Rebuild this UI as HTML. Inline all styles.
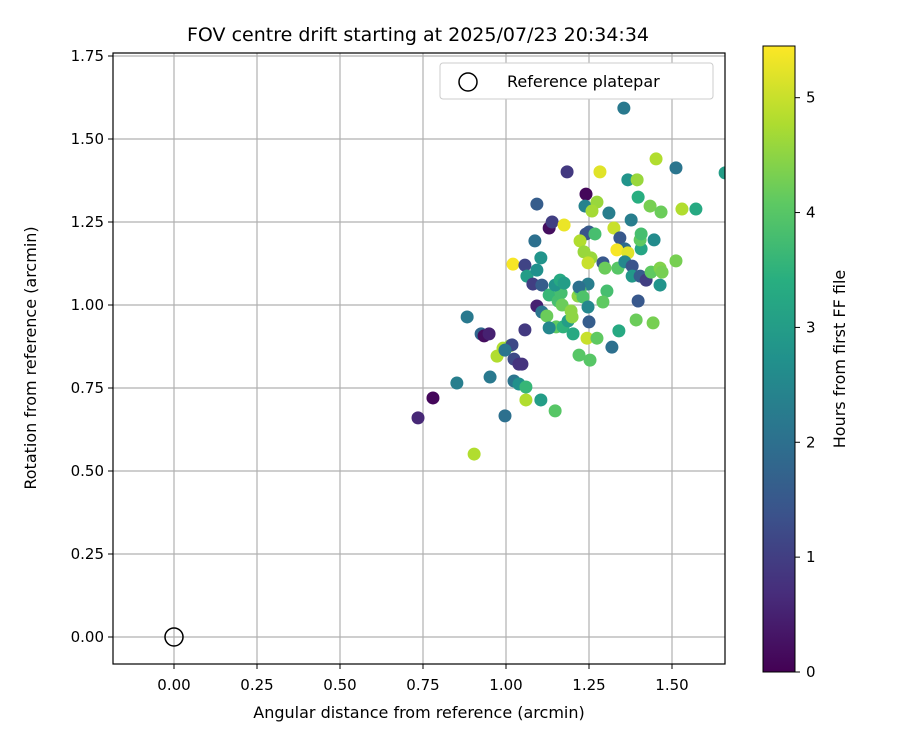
<!DOCTYPE html>
<html><head><meta charset="utf-8"><style>
body{margin:0;background:#fff;}
svg text{font-family:"DejaVu Sans","Liberation Sans",sans-serif;fill:#000;}
</style></head><body>
<svg id="chart" width="900" height="750" viewBox="0 0 900 750" xmlns="http://www.w3.org/2000/svg">
<defs>
<linearGradient id="vir" x1="0" y1="1" x2="0" y2="0">
<stop offset="0" stop-color="#440154"/><stop offset="0.125" stop-color="#472d7b"/><stop offset="0.25" stop-color="#3b528b"/><stop offset="0.375" stop-color="#2c728e"/><stop offset="0.5" stop-color="#21918c"/><stop offset="0.625" stop-color="#28ae80"/><stop offset="0.75" stop-color="#5ec962"/><stop offset="0.875" stop-color="#addc30"/><stop offset="1" stop-color="#fde725"/>
</linearGradient>
<clipPath id="clip"><rect x="113" y="53" width="612" height="611"/></clipPath>
</defs>
<text x="418" y="41" font-size="19" text-anchor="middle">FOV centre drift starting at 2025/07/23 20:34:34</text>
<g id="grid"></g>
<g id="points" clip-path="url(#clip)"></g>
<circle id="refpt" r="9" fill="none" stroke="#000" stroke-width="1.5"/>
<rect x="113" y="53" width="612" height="611" fill="none" stroke="#000" stroke-width="1.2"/>
<g id="xticks"></g>
<g id="yticks"></g>
<text x="419" y="718" font-size="16" text-anchor="middle">Angular distance from reference (arcmin)</text>
<text transform="translate(36,358) rotate(-90)" font-size="16" text-anchor="middle">Rotation from reference (arcmin)</text>
<g>
<rect x="440" y="63" width="273" height="36" rx="3" fill="#fff" stroke="#ccc" stroke-width="1"/>
<circle cx="468" cy="82" r="9" fill="none" stroke="#000" stroke-width="1.5"/>
<text x="507" y="87" font-size="16">Reference platepar</text>
</g>
<g>
<rect x="763" y="46" width="32" height="626" fill="url(#vir)" stroke="#000" stroke-width="1"/>
<g id="cticks"></g>
<text transform="translate(845,359) rotate(-90)" font-size="16" text-anchor="middle">Hours from first FF file</text>
</g>
</svg>
<script>
const xs=[.735,.78,.852,.883,.925,.934,.949,.952,.997,.973,.991,1.012,1.018,1.024,1.039,1.048,1.057,1.021,.997,1.024,1.039,1.06,1.06,1.105,1.148,1.093,1.13,1.139,1.175,1.184,1.241,1.087,1.105,1.057,1.063,1.093,1.081,1.108,1.13,1.157,1.166,1.169,1.093,1.108,1.123,1.151,1.13,1.172,1.187,1.202,1.217,1.196,1.148,1.163,1.175,1.355,1.512,1.452,1.66,1.283,1.367,1.395,1.398,1.238,1.274,1.259,1.31,1.377,1.434,1.467,1.53,1.572,1.325,1.25,1.241,1.268,1.343,1.446,1.223,1.235,1.358,1.334,1.367,1.407,1.404,1.407,1.256,1.247,1.292,1.298,1.337,1.358,1.38,1.38,1.404,1.422,1.398,1.437,1.464,1.47,1.512,1.464,1.247,1.223,1.22,1.232,1.304,1.292,1.247,1.25,1.199,1.319,1.34,1.392,1.443,1.244,1.274,1.22,1.253,.904];
const ys=[.66,.72,.765,.964,.913,.907,.913,.783,.666,.846,.87,.877,.88,.837,.822,.822,.925,1.123,.864,.771,.762,.753,.714,.714,.681,1.304,1.232,1.25,1.241,1.401,1.334,1.193,1.142,1.12,1.087,1.105,1.063,1.06,1.03,1.012,1.036,1.0,.997,.979,.967,.934,.931,.934,.952,.913,1.027,.982,1.06,1.075,1.066,1.593,1.413,1.44,1.398,1.401,1.377,1.377,1.325,1.298,1.31,1.283,1.277,1.256,1.298,1.28,1.289,1.289,1.232,1.22,1.214,1.214,1.202,1.196,1.193,1.16,1.169,1.166,1.157,1.169,1.196,1.214,1.142,1.127,1.127,1.111,1.111,1.13,1.117,1.087,1.087,1.075,1.012,1.099,1.111,1.099,1.133,1.06,1.063,1.045,1.054,1.024,1.042,1.009,.994,.949,.964,.873,.922,.955,.946,.9,.9,.849,.834,.551];
const hours=[.6,.1,2.3,2.2,1.8,.2,.5,2.2,2.0,4.8,4.8,4.6,1.2,1.2,.8,.8,.9,5.4,2.1,2.1,2.7,3.6,4.8,3.0,4.0,1.6,.2,1.0,5.3,.9,.1,2.0,2.8,1.1,3.0,2.7,1.0,1.6,3.6,3.8,3.8,4.2,.5,2.1,4.2,4.1,2.5,3.5,3.0,3.3,4.5,4.5,2.8,3.3,3.0,2.2,2.1,4.8,3.0,5.2,2.8,4.6,3.4,2.4,4.6,4.7,2.3,2.3,4.3,4.2,4.8,3.3,5.0,1.6,1.4,3.8,1.5,2.6,4.8,4.6,1.9,5.4,5.2,3.2,4.1,3.8,4.6,5.0,1.5,4.2,4.0,2.5,1.4,2.9,1.6,1.0,1.5,4.1,4.4,4.3,4.3,2.8,2.3,4.0,2.0,3.9,3.8,4.1,2.5,1.6,4.5,2.0,3.3,4.2,4.3,5.0,4.1,4.0,4.0,4.8];
const xTicks=[0,0.25,0.5,0.75,1.0,1.25,1.5];
const yTicks=[0,0.25,0.5,0.75,1.0,1.25,1.5,1.75];
const cTicks=[0,1,2,3,4,5];
const hMax=5.45;
const X=v=>174+v*332, Y=v=>637-v*332, C=v=>672-v/hMax*626;
const stops=[[68,1,84],[71,45,123],[59,82,139],[44,114,142],[33,145,140],[40,174,128],[94,201,98],[173,220,48],[253,231,37]];
function vir(t){t=Math.max(0,Math.min(1,t))*8;const i=Math.min(7,Math.floor(t)),f=t-i,a=stops[i],b=stops[i+1];return 'rgb('+a.map((v,k)=>Math.round(v+(b[k]-v)*f)).join(',')+')';}
const NS='http://www.w3.org/2000/svg';
function mk(tag,attrs,parent){const e=document.createElementNS(NS,tag);for(const k in attrs)e.setAttribute(k,attrs[k]);parent.appendChild(e);return e;}
const grid=document.getElementById('grid'),xt=document.getElementById('xticks'),yt=document.getElementById('yticks'),ct=document.getElementById('cticks'),pts=document.getElementById('points');
xTicks.forEach(v=>{const x=X(v);
const g=mk('line',{x1:x,x2:x,y1:53,y2:664,stroke:'#b0b0b0','stroke-width':1.2},grid);


mk('line',{x1:x,x2:x,y1:664,y2:669,stroke:'#000'},xt);
const t=mk('text',{x:x,y:690,'font-size':15,'text-anchor':'middle'},xt);t.textContent=v.toFixed(2);

});
yTicks.forEach(v=>{const y=Y(v);
const g=mk('line',{x1:113,x2:725,y1:y,y2:y,stroke:'#b0b0b0','stroke-width':1.2},grid);


mk('line',{x1:108,x2:113,y1:y,y2:y,stroke:'#000'},yt);
const t=mk('text',{x:104,y:y+5,'font-size':15,'text-anchor':'end'},yt);t.textContent=v.toFixed(2);

});
cTicks.forEach(v=>{const y=C(v);
mk('line',{x1:795,x2:800,y1:y,y2:y,stroke:'#000'},ct);
const t=mk('text',{x:806,y:y+5,'font-size':15},ct);t.textContent=v;

});
xs.forEach((v,i)=>{const c=mk('circle',{cx:X(v),cy:Y(ys[i]),r:6.5,fill:vir(hours[i]/hMax)},pts);

});
const r=document.getElementById('refpt');r.setAttribute('cx',X(0));r.setAttribute('cy',Y(0));
</script>
</body></html>
